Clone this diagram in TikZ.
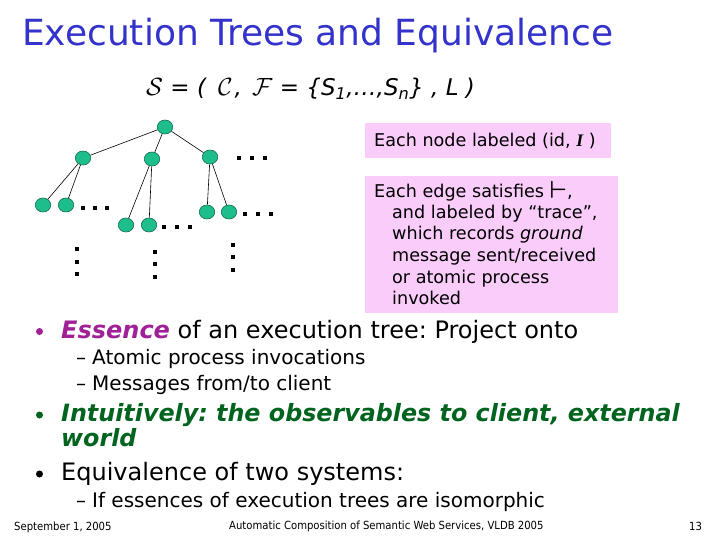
\documentclass[tikz,border=0pt]{standalone}
\usepackage{fontspec}
\setmainfont{DejaVu Sans}
\newfontfamily\serifit{Liberation Serif}
\newfontfamily\footfont{DejaVu Sans Condensed}
\usetikzlibrary{shapes.geometric}
\definecolor{titleblue}{RGB}{51,51,204}
\definecolor{nodegreen}{RGB}{30,190,140}
\definecolor{nodeedge}{RGB}{20,110,80}
\definecolor{pinkbg}{RGB}{250,204,250}
\definecolor{essmag}{RGB}{160,32,150}
\definecolor{intgreen}{RGB}{0,100,30}
\frenchspacing
\tikzset{
  tnode/.style={ellipse, fill=nodegreen, draw=nodeedge, line width=0.6pt, minimum width=15.5pt, minimum height=14pt, inner sep=0pt},
  tedge/.style={draw=black, line width=0.6pt},
  dotsq/.style={rectangle, fill=black, minimum size=3.2pt, inner sep=0pt},
  bul/.style={circle, minimum size=7pt, inner sep=0pt},
  pinkbox/.style={rectangle, fill=pinkbg, draw=none, anchor=north west, inner sep=0pt},
  txt/.style={anchor=base west, inner sep=0pt, text=black},
  boxtxt/.style={txt, font=\fontsize{17.6}{20}\selectfont},
  bigtxt/.style={txt, font=\fontsize{24}{28}\selectfont},
  subtxt/.style={txt, font=\fontsize{20}{24}\selectfont},
  foot/.style={txt, font=\footfont\fontsize{11.2}{13}\selectfont}
}
\begin{document}
\begin{tikzpicture}[x=1pt,y=-1pt]
\useasboundingbox (0,0) rectangle (720,540);
% title
\node[txt, text=titleblue, font=\fontsize{36}{42}\selectfont] (title) at (22,46) {Execution Trees and Equivalence};
% formula
\node[txt, font=\fontsize{23}{27}\selectfont\itshape] (formula) at (146,96) {$\mathcal{S}$ = (\hspace{12pt}$\mathcal{C}$\hspace{2pt}, \hspace{3pt}$\mathcal{F}$ = \{S\textsubscript{1},…,S\textsubscript{n}\} , L )};
% tree
\node[tnode] (r) at (165,127) {};
\node[tnode] (a) at (83,158) {};
\node[tnode] (b) at (152,159) {};
\node[tnode] (c) at (210,157) {};
\node[tnode] (a1) at (43,205) {};
\node[tnode] (a2) at (66,205) {};
\node[tnode] (b1) at (126,225) {};
\node[tnode] (b2) at (149,225) {};
\node[tnode] (c1) at (207,212) {};
\node[tnode] (c2) at (229,212) {};
\draw[tedge] (r) -- (a);
\draw[tedge] (r) -- (b);
\draw[tedge] (r) -- (c);
\draw[tedge] (a) -- (a1);
\draw[tedge] (a) -- (a2);
\draw[tedge] (b) -- (b1);
\draw[tedge] (b) -- (b2);
\draw[tedge] (c) -- (c1);
\draw[tedge] (c) -- (c2);
% dots
\foreach \x [count=\i] in {239,252,265} \node[dotsq] (dc\i) at (\x,158) {};
\foreach \x [count=\i] in {83,95,107} \node[dotsq] (da\i) at (\x,208) {};
\foreach \x [count=\i] in {164,177,190} \node[dotsq] (db\i) at (\x,227) {};
\foreach \x [count=\i] in {245,258,271} \node[dotsq] (dd\i) at (\x,214) {};
\foreach \y [count=\i] in {249,262,274} \node[dotsq] (va\i) at (77,\y) {};
\foreach \y [count=\i] in {252,264,277} \node[dotsq] (vb\i) at (155,\y) {};
\foreach \y [count=\i] in {245,257,270} \node[dotsq] (vc\i) at (233,\y) {};
% pink boxes
\node[pinkbox, minimum width=246pt, minimum height=35pt] (box1) at (365,123) {};
\node[boxtxt] (box1t) at (374,147) {Each node labeled (id, {\serifit\bfseries\itshape I} )};
\node[pinkbox, minimum width=253pt, minimum height=137pt] (box2) at (365,176) {};
\node[boxtxt] (l1) at (374,197) {Each edge satisfies \raisebox{-1.5pt}{\fontsize{24}{24}\selectfont\boldmath$\vdash$},};
\node[boxtxt] (l2) at (392,218.5) {and labeled by “trace”,};
\node[boxtxt] (l3) at (392,240) {which records \textit{ground}};
\node[boxtxt] (l4) at (392,261.5) {message sent/received};
\node[boxtxt] (l5) at (392,283) {or atomic process};
\node[boxtxt] (l6) at (392,304.5) {invoked};
% bullets
\node[bul, fill=essmag] (bu1) at (39.5,331.5) {};
\node[bigtxt] (t1) at (61,338) {\textcolor{essmag}{\textbf{\textit{Essence}}} of an execution tree: Project onto};
\node[subtxt] (d1) at (76,364) {–};
\node[subtxt] (s1) at (92,364) {Atomic process invocations};
\node[subtxt] (d2) at (76,390) {–};
\node[subtxt] (s2) at (92,390) {Messages from/to client};
\node[bul, fill=intgreen] (bu2) at (39.5,415) {};
\node[bigtxt, text=intgreen, font=\fontsize{23.8}{28}\selectfont\bfseries\itshape] (t2) at (61,421) {Intuitively: the observables to client, external};
\node[bigtxt, text=intgreen, font=\fontsize{23.8}{28}\selectfont\bfseries\itshape] (t2b) at (61,446) {world};
\node[bul, fill=black] (bu3) at (39.5,474) {};
\node[bigtxt] (t3) at (61,480) {Equivalence of two systems:};
\node[subtxt] (d3) at (76,507) {–};
\node[subtxt] (s3) at (92,507) {If essences of execution trees are isomorphic};
% footer
\node[foot] (f1) at (14,530) {September 1, 2005};
\node[foot] (f2) at (229,529) {Automatic Composition of Semantic Web Services, VLDB 2005};
\node[foot] (f3) at (689,530) {13};
\end{tikzpicture}
\end{document}
